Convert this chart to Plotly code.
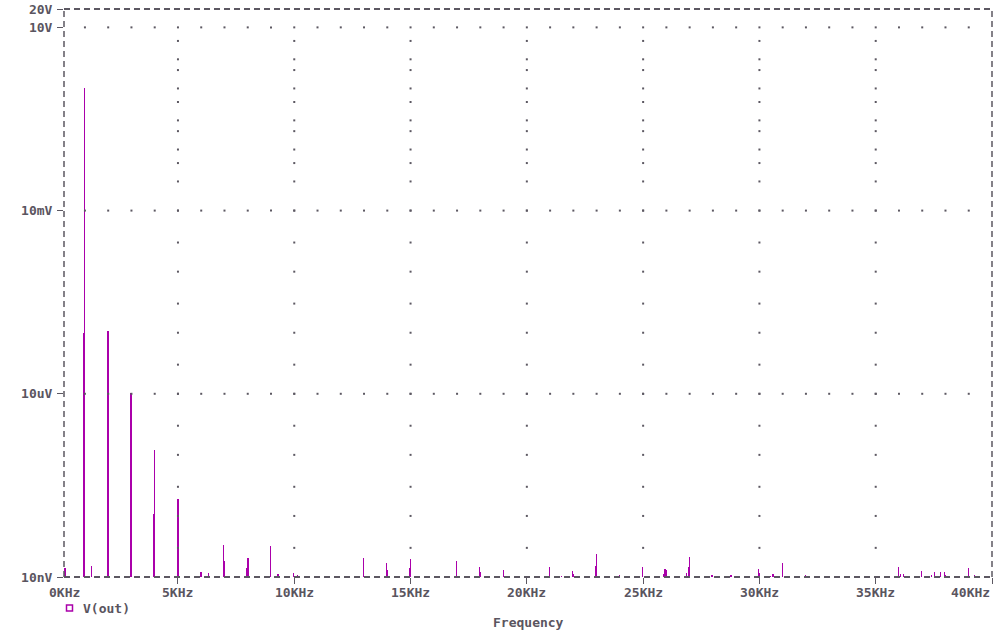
import plotly.graph_objects as go

# ---------------- data ----------------
series_name = "V(out)"
freq_khz = [0.12, 0.16, 0.57, 0.96, 1.00, 1.29, 1.99, 2.03, 2.98, 3.02,
            3.61, 3.97, 4.01, 5.00, 5.99, 6.33, 6.96, 7.00, 7.96, 8.01,
            8.99, 9.30, 9.98, 10.15, 12.98, 13.98, 14.02, 14.97, 15.01, 16.99,
            17.98, 18.02, 19.01, 20.98, 21.50, 21.97, 22.02, 22.62, 22.96, 23.00,
            23.99, 24.98, 25.88, 25.94, 26.01, 26.87, 26.96, 27.00, 27.93, 27.98,
            28.78, 29.97, 30.01, 30.48, 30.55, 30.59, 31.00, 31.98, 35.98, 36.07,
            36.20, 36.97, 37.40, 37.53, 37.79, 37.96, 38.00, 38.99, 39.25]
amp_v = [1.4e-8, 1.4e-8, 1.04e-8, 1.0e-4, 1.0, 1.5e-8, 1.07e-4, 1.04e-6, 1.05e-5, 3.2e-7,
         1.04e-8, 1.08e-7, 1.2e-6, 1.9e-7, 1.21e-8, 1.17e-8, 3.35e-8, 1.83e-8, 1.42e-8, 2.05e-8,
         3.25e-8, 1.12e-8, 1.16e-8, 1.08e-8, 2.05e-8, 1.7e-8, 1.3e-8, 1.4e-8, 1.97e-8, 1.83e-8,
         1.46e-8, 1.2e-8, 1.3e-8, 1.46e-8, 1.04e-8, 1.25e-8, 1.12e-8, 1.04e-8, 1.51e-8, 2.38e-8,
         1.08e-8, 1.46e-8, 1.12e-8, 1.35e-8, 1.3e-8, 1.16e-8, 1.46e-8, 2.13e-8, 1.07e-8, 1.07e-8,
         1.08e-8, 1.35e-8, 1.16e-8, 1.04e-8, 1.12e-8, 1.12e-8, 1.7e-8, 1.08e-8, 1.46e-8, 1.12e-8,
         1.12e-8, 1.25e-8, 1.08e-8, 1.2e-8, 1.2e-8, 1.2e-8, 1.08e-8, 1.4e-8, 1.08e-8]

x_tick_vals = [0, 5, 10, 15, 20, 25, 30, 35, 40]
x_tick_text = ["0KHz", "5KHz", "10KHz", "15KHz", "20KHz", "25KHz", "30KHz", "35KHz", "40KHz"]
y_tick_vals = [1e-8, 1e-5, 1e-2, 10, 20]
y_tick_text = ["10nV", "10uV", "10mV", "10V", "20V"]
# dotted grid: minor y positions on the major x columns, minor x positions on labelled y rows
y_minor_vals = [6, 3, 2, 1, 0.6, 0.3, 0.2, 0.1, 0.06, 0.03, 0.01, 0.003, 0.001,
                3e-4, 1e-4, 3e-5, 1e-5, 3e-6, 1e-6, 3e-7, 1e-7, 3e-8]
x_minor_vals = list(range(1, 40))
y_row_vals = [10, 1e-2, 1e-5]
x_col_vals = [5, 10, 15, 20, 25, 30, 35]
x_title = "Frequency"

# ---------------- styling ----------------
MAG = "#AA00AA"
GRAY = "#5c5862"
TXT = "#5a5560"
FONT = dict(family="DejaVu Sans Mono", size=13, color=TXT, weight="bold")
X0, X1 = 0.1, 40.0
W, H = 1004, 631
L, R, T, B = 64, 12, 9, 54
pw, ph = W - L - R, H - T - B

gx, gy = [], []
for xv in x_col_vals:
    for yv in y_minor_vals:
        gx.append(xv); gy.append(yv)
for yv in y_row_vals:
    for xv in x_minor_vals:
        gx.append(xv); gy.append(yv)

fig = go.Figure()
fig.add_trace(go.Scatter(x=gx, y=gy, mode="markers", hoverinfo="skip", showlegend=False,
                         marker=dict(symbol="square", size=2, color=GRAY, line=dict(width=0))))
fig.add_trace(go.Bar(x=freq_khz, y=amp_v, width=0.005, name=series_name, showlegend=False,
                     marker=dict(color=MAG, line=dict(width=0))))

# dashed frame
dash = "6px,4px"
fig.add_shape(type="line", xref="paper", yref="paper", x0=0, x1=1, y0=0, y1=0,
              line=dict(color=GRAY, width=2, dash=dash))
fig.add_shape(type="line", xref="paper", yref="paper", x0=0, x1=1, y0=1, y1=1,
              line=dict(color=GRAY, width=2, dash=dash))
fig.add_shape(type="line", xref="paper", yref="paper", x0=0, x1=0, y0=0, y1=1,
              line=dict(color=GRAY, width=1.5, dash=dash))
fig.add_shape(type="line", xref="paper", yref="paper", x0=1, x1=1, y0=0, y1=1,
              line=dict(color=GRAY, width=1.5, dash=dash))

# x tick labels
for v, t in zip(x_tick_vals, x_tick_text):
    xv = min(max(v, X0), X1)
    anchor = "right" if v >= X1 else "center"
    fig.add_annotation(x=xv, y=0, xref="x", yref="paper", text=t, showarrow=False,
                       xanchor=anchor, yanchor="middle", yshift=-15, font=FONT)

# legend
sq_x0 = (66.5 - L) / pw
sq_x1 = (72.5 - L) / pw
fig.add_shape(type="rect", xref="paper", yref="paper", x0=sq_x0, x1=sq_x1,
              y0=-(611 - (T + ph)) / ph, y1=-(605 - (T + ph)) / ph,
              line=dict(color=MAG, width=1.5), fillcolor="rgba(0,0,0,0)")
fig.add_annotation(x=(81 - L) / pw, y=0, xref="paper", yref="paper", text=series_name,
                   showarrow=False, xanchor="left", yanchor="middle", yshift=-31, font=FONT)
fig.add_annotation(x=0.5, y=0, xref="paper", yref="paper", text=x_title,
                   showarrow=False, xanchor="center", yanchor="middle", yshift=-45, font=FONT)

fig.update_layout(
    width=W, height=H, margin=dict(l=L, r=R, t=T, b=B, autoexpand=False),
    paper_bgcolor="white", plot_bgcolor="white",
    bargap=0, showlegend=False,
    xaxis=dict(range=[X0, X1], showgrid=False, zeroline=False, showline=False, automargin=False,
               tickmode="array", tickvals=x_tick_vals, ticktext=x_tick_text,
               showticklabels=False, ticks="outside", ticklen=6, tickcolor=GRAY, tickwidth=1),
    yaxis=dict(type="log", range=[-8, 1.30103], showgrid=False, zeroline=False, showline=False,
               automargin=False,
               tickmode="array", tickvals=y_tick_vals, ticktext=y_tick_text,
               ticks="outside", ticklen=6, tickcolor=GRAY, tickwidth=1,
               tickfont=FONT, ticklabelstandoff=2),
)

fig.write_html("out.html", config={"displayModeBar": False},
               post_script="document.body.style.margin='0px';document.body.style.overflow='hidden';")
